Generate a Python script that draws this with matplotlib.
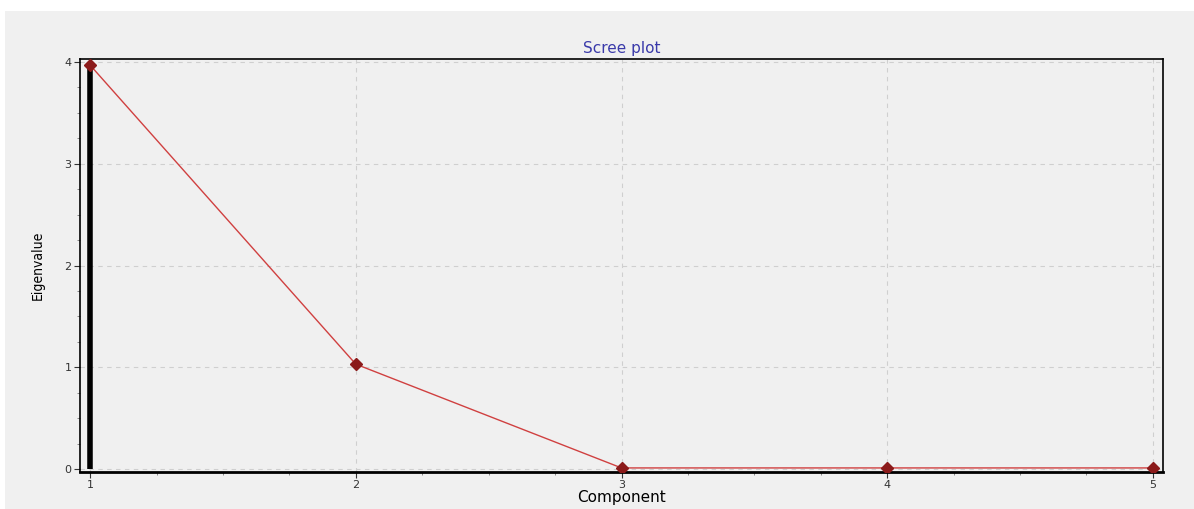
import matplotlib.pyplot as plt
from matplotlib.patches import Rectangle
from matplotlib.ticker import MultipleLocator

# Scree plot data
components = [1, 2, 3, 4, 5]
eigenvalues = [3.97, 1.03, 0.01, 0.01, 0.01]
x_ticks = [1, 2, 3, 4, 5]
y_ticks = [0, 1, 2, 3, 4]

fig = plt.figure(figsize=(11.94, 5.09), dpi=100, facecolor="#f0f0f0")
# white strip at the top and left edge of the screenshot
fig.patches.append(Rectangle((0, 498 / 509), 1, 11 / 509, transform=fig.transFigure,
                             facecolor="white", edgecolor="none", zorder=-1))
fig.patches.append(Rectangle((0, 0), 5 / 1194, 1, transform=fig.transFigure,
                             facecolor="white", edgecolor="none", zorder=-1))

ax = fig.add_axes([80 / 1194, 37 / 509, 1083 / 1194, 413 / 509])
ax.set_facecolor("#f0f0f0")

ax.grid(True, color="#cfcfcf", linestyle=(0, (4, 4)), linewidth=0.8)
ax.set_axisbelow(True)

# thick black bar at the first component
ax.vlines(components[0], 0, eigenvalues[0], color="black", linewidth=4, zorder=2)

ax.plot(components, eigenvalues, color="#d04040", linewidth=1.0, zorder=3)
ax.plot(components, eigenvalues, linestyle="none", marker="D", markersize=6,
        color="#8b1a1a", zorder=4)

ax.set_xlim(0.962, 5.038)
ax.set_ylim(-0.03, 4.03)
ax.set_xticks(x_ticks)
ax.set_yticks(y_ticks)
ax.xaxis.set_minor_locator(MultipleLocator(0.25))
ax.yaxis.set_minor_locator(MultipleLocator(0.25))
ax.tick_params(axis="both", which="major", labelsize=8, colors="#333333", length=4, pad=2)
ax.tick_params(axis="both", which="minor", length=2, color="#777777")

for side in ["left", "right", "top"]:
    ax.spines[side].set_linewidth(1.2)
ax.spines["bottom"].set_linewidth(2)

ax.set_title("Scree plot", color="#3a3aaa", fontsize=11, pad=4)
ax.set_xlabel("Component", fontsize=11, labelpad=0)
ax.set_ylabel("Eigenvalue", fontsize=10, fontstretch="condensed", labelpad=14)

plt.savefig("out.png", dpi=100, facecolor=fig.get_facecolor())
